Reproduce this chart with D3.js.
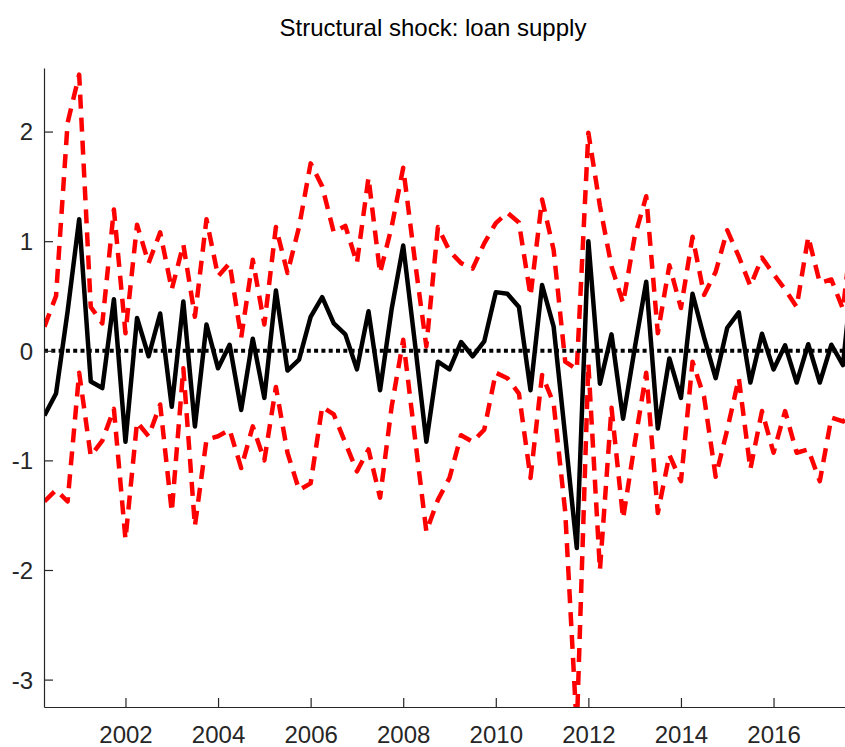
<!DOCTYPE html>
<html>
<head>
<meta charset="utf-8">
<script src="https://cdn.jsdelivr.net/npm/d3@7"></script>
<style>
  body { margin: 0; background: #fff; }
</style>
</head>
<body>
<svg class="vis" width="845" height="747"></svg>
<script>
// quarterly dates (decimal years)
var dates = [2000.25, 2000.5, 2000.75, 2001, 2001.25, 2001.5, 2001.75, 2002, 2002.25, 2002.5,
    2002.75, 2003, 2003.25, 2003.5, 2003.75, 2004, 2004.25, 2004.5, 2004.75, 2005,
    2005.25, 2005.5, 2005.75, 2006, 2006.25, 2006.5, 2006.75, 2007, 2007.25, 2007.5,
    2007.75, 2008, 2008.25, 2008.5, 2008.75, 2009, 2009.25, 2009.5, 2009.75, 2010,
    2010.25, 2010.5, 2010.75, 2011, 2011.25, 2011.5, 2011.75, 2012, 2012.25, 2012.5,
    2012.75, 2013, 2013.25, 2013.5, 2013.75, 2014, 2014.25, 2014.5, 2014.75, 2015,
    2015.25, 2015.5, 2015.75, 2016, 2016.25, 2016.5, 2016.75, 2017, 2017.25, 2017.5,
    2017.75];

// median structural shock
var shock = [-0.59, -0.39, 0.36, 1.20, -0.28, -0.34, 0.47, -0.83, 0.30, -0.05,
    0.34, -0.51, 0.45, -0.69, 0.24, -0.16, 0.055, -0.54, 0.11, -0.43,
    0.55, -0.18, -0.08, 0.31, 0.49, 0.25, 0.15, -0.17, 0.36, -0.36,
    0.38, 0.96, 0.08, -0.83, -0.10, -0.17, 0.08, -0.05, 0.085, 0.535,
    0.52, 0.40, -0.36, 0.60, 0.22, -0.78, -1.80, 1.00, -0.30, 0.15,
    -0.62, 0.02, 0.63, -0.71, -0.07, -0.43, 0.52, 0.12, -0.25, 0.21,
    0.35, -0.29, 0.155, -0.17, 0.05, -0.29, 0.06, -0.29, 0.055, -0.13,
    0.9];

// upper and lower bands
var upper = [0.22, 0.50, 2.08, 2.52, 0.40, 0.25, 1.29, 0.16, 1.15, 0.80,
    1.08, 0.56, 0.97, 0.31, 1.20, 0.68, 0.80, 0.12, 0.83, 0.24,
    1.13, 0.71, 1.13, 1.71, 1.50, 1.08, 1.14, 0.80, 1.58, 0.71,
    1.13, 1.67, 0.83, 0.04, 1.13, 0.91, 0.80, 0.75, 0.98, 1.165,
    1.26, 1.17, 0.50, 1.38, 0.92, -0.10, -0.17, 1.99, 1.32, 0.77,
    0.435, 1.04, 1.41, 0.16, 0.78, 0.39, 1.04, 0.51, 0.72, 1.10,
    0.86, 0.59, 0.85, 0.70, 0.56, 0.40, 1.04, 0.62, 0.65, 0.38,
    1.3];

var lower = [-1.375, -1.27, -1.375, -0.20, -0.96, -0.82, -0.53, -1.72, -0.65, -0.78,
    -0.49, -1.47, -0.16, -1.60, -0.81, -0.78, -0.72, -1.07, -0.69, -1.00,
    -0.33, -0.93, -1.27, -1.21, -0.51, -0.58, -0.84, -1.10, -0.90, -1.34,
    -0.51, 0.10, -0.78, -1.65, -1.36, -1.16, -0.77, -0.83, -0.72, -0.20,
    -0.25, -0.39, -1.16, -0.22, -0.48, -1.47, -3.45, -0.12, -2.00, -0.52,
    -1.53, -0.85, -0.20, -1.48, -0.95, -1.19, -0.10, -0.42, -1.15, -0.72,
    -0.25, -1.08, -0.55, -0.93, -0.55, -0.93, -0.90, -1.19, -0.61, -0.645,
    -0.55];

var xTicks = [2002, 2004, 2006, 2008, 2010, 2012, 2014, 2016];
var yTicks = [-3, -2, -1, 0, 1, 2];

var svg = d3.select(".vis");
var font = "'Liberation Sans', Arial, Helvetica, sans-serif";
var axisColor = "#262626";

var plotLeft = 44, plotRight = 845, plotTop = 68, plotBottom = 707;

var x = d3.scaleLinear()
    .domain([2000.24, 2017.544])
    .range([plotLeft, plotRight]);

var y = d3.scaleLinear()
    .domain([-3.25, 2.58])
    .range([plotBottom, plotTop]);

svg.append("text")
    .attr("x", 433)
    .attr("y", 36)
    .attr("text-anchor", "middle")
    .attr("font-family", font)
    .attr("font-size", "24px")
    .attr("fill", "#000")
    .text("Structural shock: loan supply");

svg.append("clipPath")
    .attr("id", "plotClip")
    .append("rect")
    .attr("x", plotLeft)
    .attr("y", plotTop)
    .attr("width", plotRight - plotLeft)
    .attr("height", plotBottom - plotTop);

var plot = svg.append("g").attr("clip-path", "url(#plotClip)");

var rows = dates.map(function (d, i) {
    return { t: d, m: shock[i], hi: upper[i], lo: lower[i] };
});

function lineFor(key) {
    return d3.line()
        .x(function (d) { return x(d.t); })
        .y(function (d) { return y(d[key]); });
}

// black median line
plot.append("path")
    .datum(rows)
    .attr("fill", "none")
    .attr("stroke", "#000")
    .attr("stroke-width", 4.5)
    .attr("stroke-linejoin", "round")
    .attr("d", lineFor("m"));

// red dashed bands
["hi", "lo"].forEach(function (k) {
    plot.append("path")
        .datum(rows)
        .attr("fill", "none")
        .attr("stroke", "#ff0000")
        .attr("stroke-width", 4.5)
        .attr("stroke-dasharray", "14,9")
        .attr("stroke-linejoin", "round")
        .attr("d", lineFor(k));
});

// dotted zero line
plot.append("line")
    .attr("x1", plotLeft)
    .attr("x2", plotRight)
    .attr("y1", y(0))
    .attr("y2", y(0))
    .attr("stroke", "#000")
    .attr("stroke-width", 4)
    .attr("stroke-dasharray", "4,3.3");

// axes, ticks pointing inward like MATLAB
var xAxis = svg.append("g")
    .attr("transform", "translate(0," + plotBottom + ")")
    .call(d3.axisBottom(x).tickValues(xTicks).tickSizeInner(-9).tickSizeOuter(0)
        .tickFormat(function (d) { return String(d); }));

var yAxis = svg.append("g")
    .attr("transform", "translate(" + plotLeft + ",0)")
    .call(d3.axisLeft(y).tickValues(yTicks).tickSizeInner(-9).tickSizeOuter(0)
        .tickFormat(function (d) { return String(d); }));

[xAxis, yAxis].forEach(function (g) {
    g.select(".domain").attr("stroke", axisColor).attr("stroke-width", 1.2);
    g.selectAll(".tick line").attr("stroke", axisColor).attr("stroke-width", 1.2);
    g.selectAll(".tick text")
        .attr("font-family", font)
        .attr("font-size", "24px")
        .attr("fill", axisColor);
});

xAxis.selectAll(".tick text").attr("y", 36).attr("dy", 0);
yAxis.selectAll(".tick text").attr("x", -11).attr("dy", "0.35em");
</script>
</body>
</html>
